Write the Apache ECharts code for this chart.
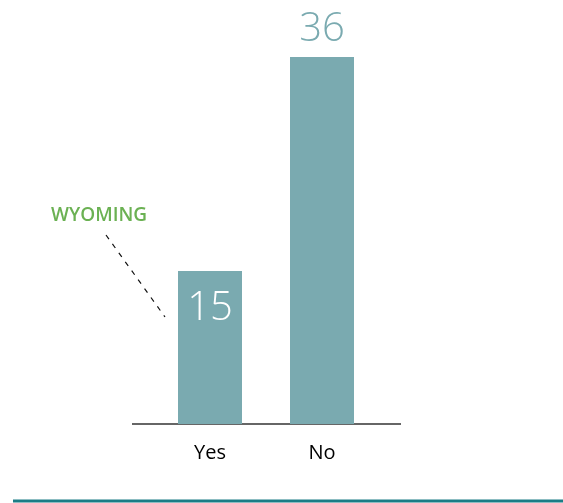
<!DOCTYPE html>
<html>
<head>
<meta charset="utf-8">
<script src="https://cdn.jsdelivr.net/npm/echarts@6/dist/echarts.min.js"></script>
<style>
  html, body { margin: 0; padding: 0; background: #fff; }
  #chart { width: 563px; height: 503px; }
</style>
</head>
<body>
<div id="chart"></div>
<script>
// data
var categories = ['Yes', 'No'];
var values = [15, 36];
var stateName = 'WYOMING';

var barColor = '#7aaab0';

var chart = echarts.init(document.getElementById('chart'));
chart.setOption({
  animation: false,
  grid: { left: 154, right: 185, top: 57, bottom: 79 },
  xAxis: {
    type: 'category',
    data: categories,
    axisLine: { show: false },
    axisTick: { show: false },
    axisLabel: {
      color: '#000', fontSize: 20, margin: 19,
      fontFamily: 'Open Sans'
    }
  },
  yAxis: {
    type: 'value', min: 0, max: 36,
    show: false
  },
  series: [{
    type: 'bar',
    data: values.map(function (v, i) {
      return {
        value: v,
        label: i === 0
          ? { position: 'insideTop', distance: 18, color: '#fff' }
          : { position: 'top', distance: 7, color: barColor }
      };
    }),
    barWidth: 64,
    itemStyle: { color: barColor },
    label: {
      show: true,
      fontSize: 40,
      fontWeight: 300,
      fontFamily: 'Open Sans'
    }
  }],
  graphic: [
    // baseline
    { type: 'line', shape: { x1: 132, y1: 424, x2: 401, y2: 424 },
      style: { stroke: '#333', lineWidth: 1.5 } },
    // bottom rule
    { type: 'line', shape: { x1: 13, y1: 501, x2: 563, y2: 501 },
      style: { stroke: '#1b7c86', lineWidth: 3 } },
    // callout
    { type: 'text', left: 51, top: 206,
      style: { text: stateName, fill: '#6bb153', font: '600 19px "Open Sans"' } },
    { type: 'line', shape: { x1: 106, y1: 235, x2: 165, y2: 317 },
      style: { stroke: '#111', lineWidth: 1.2, lineDash: [5, 6] } }
  ]
});
</script>
</body>
</html>
